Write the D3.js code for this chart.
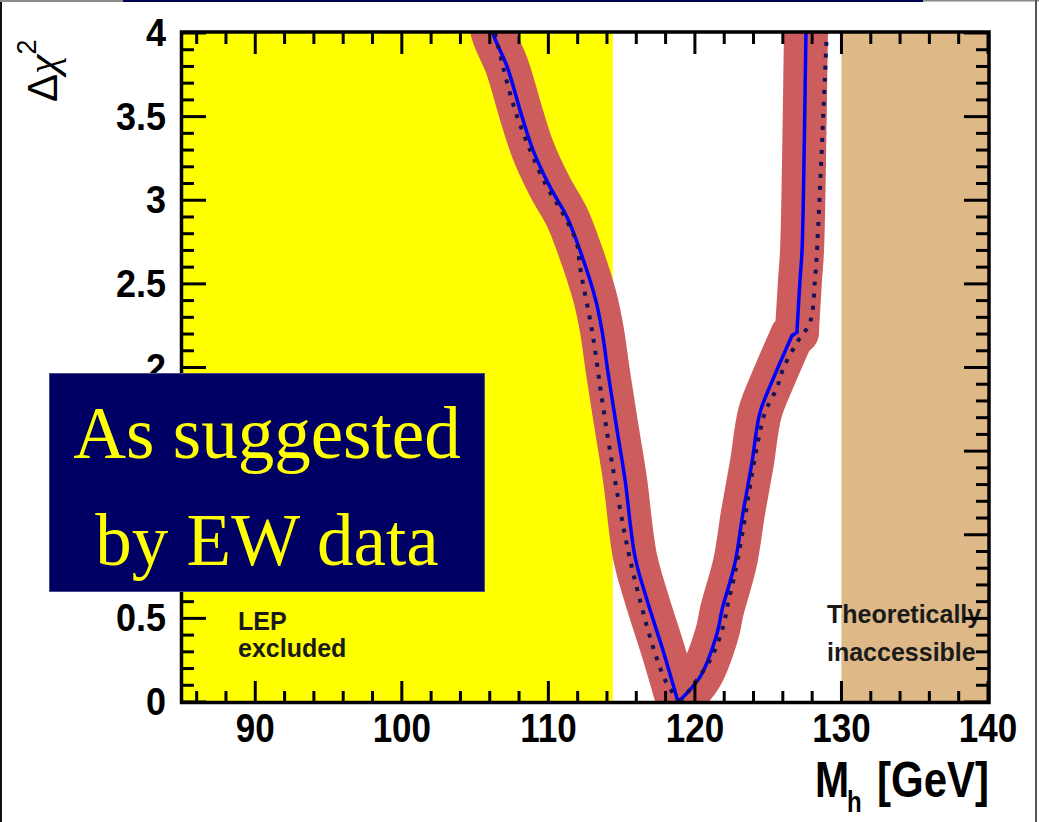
<!DOCTYPE html>
<html>
<head>
<meta charset="utf-8">
<script src="https://cdn.jsdelivr.net/npm/d3@7"></script>
<style>
  html, body { margin: 0; padding: 0; background: #ffffff; }
  svg { display: block; }
</style>
</head>
<body>
<svg id="chart" width="1039" height="822"></svg>
<script>
// Δχ² profile of the lightest Higgs mass from the electroweak fit
const blueMass = [105.95, 106.22, 107.18, 108.20, 108.95, 110.11, 111.27, 112.16, 113.18, 113.66,
                  114.07, 114.68, 115.23, 115.91, 116.73, 117.82, 118.85,
                  120.35, 121.51, 121.85, 122.73, 123.28, 123.89, 124.44, 125.33,
                  126.62, 126.96, 127.17, 127.31, 127.58, 127.62];
const blueChi2 = [4.15, 4.00, 3.80, 3.50, 3.30, 3.08, 2.90, 2.70, 2.42, 2.22,
                  1.97, 1.63, 1.33, 0.87, 0.61, 0.31, 0.00,
                  0.15, 0.41, 0.55, 0.83, 1.13, 1.43, 1.73, 1.93,
                  2.19, 2.21, 2.52, 2.70, 4.00, 4.15];
// masses where the solid profile has corners (minimum and the step near Δχ² ≈ 2.2)
const blueCorners = [118.85, 126.62, 126.96];

const dotMass = [106.36, 106.90, 107.72, 108.75, 109.90, 111.00, 111.95, 112.16, 112.98, 113.66,
                 114.34, 115.43, 116.25, 117.14, 118.09, 119.00,
                 121.03, 121.92, 122.26, 122.73, 123.28, 123.76, 124.24, 124.78, 125.60,
                 126.01, 126.97, 127.85, 128.19, 128.33, 129.00];
const dotChi2 = [4.00, 3.80, 3.54, 3.30, 3.08, 2.92, 2.74, 2.60, 2.22, 1.81,
                 1.43, 0.91, 0.61, 0.33, 0.11, 0.00,
                 0.25, 0.45, 0.59, 0.77, 1.03, 1.29, 1.53, 1.73, 1.88,
                 1.99, 2.15, 2.27, 2.52, 2.70, 4.00];
const dotCorners = [119.00];

// theory uncertainty carried by the thick band (GeV on either side)
const theoryError = 1.5;

// shaded mass regions
const lepLimit = 114.4;
const theoryLimit = 130;

const massTicks = [90, 100, 110, 120, 130, 140];
const massTickLabels = ["90", "100", "110", "120", "130", "140"];
const chi2Ticks = [0, 0.5, 1, 1.5, 2, 2.5, 3, 3.5, 4];
const chi2TickLabels = ["0", "0.5", "1", "1.5", "2", "2.5", "3", "3.5", "4"];

const massDomain = [85, 140];
const chi2Domain = [0, 4];

const svg = d3.select("#chart");
const W = 1039, H = 822;
const plotLeft = 182, plotRight = 988, plotTop = 33, plotBottom = 702;

const x = d3.scaleLinear().domain(massDomain).range([plotLeft, plotRight]);
const y = d3.scaleLinear().domain(chi2Domain).range([plotBottom, plotTop]);

svg.append("rect").attr("width", W).attr("height", H).attr("fill", "#ffffff");

// slide edges
svg.append("rect").attr("x", 0).attr("y", 0).attr("width", 2).attr("height", H).attr("fill", "#111");
svg.append("rect").attr("x", 0).attr("y", 0).attr("width", 123).attr("height", 2).attr("fill", "#8a8a8a");
svg.append("rect").attr("x", 123).attr("y", 0).attr("width", 800).attr("height", 2).attr("fill", "#000050");
svg.append("rect").attr("x", 923).attr("y", 0).attr("width", 116).attr("height", 1.5).attr("fill", "#8a8a8a");
svg.append("rect").attr("x", 1035).attr("y", 0).attr("width", 2).attr("height", H).attr("fill", "#555");

svg.append("defs").append("clipPath").attr("id", "plotClip")
  .append("rect").attr("x", plotLeft).attr("y", plotTop)
  .attr("width", plotRight - plotLeft).attr("height", plotBottom - plotTop);

const plot = svg.append("g").attr("clip-path", "url(#plotClip)");

// excluded regions
plot.append("rect")
  .attr("x", x(massDomain[0])).attr("y", y(chi2Domain[1]))
  .attr("width", x(lepLimit) - x(massDomain[0]))
  .attr("height", y(chi2Domain[0]) - y(chi2Domain[1]))
  .attr("fill", "#ffff00");
plot.append("rect")
  .attr("x", x(theoryLimit)).attr("y", y(chi2Domain[1]))
  .attr("width", x(massDomain[1]) - x(theoryLimit))
  .attr("height", y(chi2Domain[0]) - y(chi2Domain[1]))
  .attr("fill", "#deb887");

// split a profile into smooth pieces at its corner masses
function pieces(mass, chi2, corners) {
  const pts = mass.map((m, i) => [m, chi2[i]]);
  const out = [];
  let cur = [];
  pts.forEach(p => {
    cur.push(p);
    if (corners.some(c => Math.abs(c - p[0]) < 1e-6)) {
      out.push(cur);
      cur = [p];
    }
  });
  if (cur.length > 1) out.push(cur);
  return out;
}

const line = d3.line().x(d => x(d[0])).y(d => y(d[1])).curve(d3.curveCatmullRom.alpha(0.5));

const bluePieces = pieces(blueMass, blueChi2, blueCorners);
const dotPieces = pieces(dotMass, dotChi2, dotCorners);

// theory band: the profile widened by ±theoryError in mass
const bandWidth = x(massDomain[0] + 2 * theoryError) - x(massDomain[0]);
plot.selectAll("path.band").data(bluePieces).join("path")
  .attr("class", "band")
  .attr("d", line)
  .attr("fill", "none")
  .attr("stroke", "#cd5c5c")
  .attr("stroke-width", bandWidth)
  .attr("stroke-linejoin", "round")
  .attr("stroke-linecap", "round");

plot.selectAll("path.fit").data(bluePieces).join("path")
  .attr("class", "fit")
  .attr("d", line)
  .attr("fill", "none")
  .attr("stroke", "#0000ff")
  .attr("stroke-width", 3.5)
  .attr("stroke-linecap", "round");

plot.selectAll("path.alt").data(dotPieces).join("path")
  .attr("class", "alt")
  .attr("d", line)
  .attr("fill", "none")
  .attr("stroke", "#14145a")
  .attr("stroke-width", 4)
  .attr("stroke-dasharray", "4,8");

// region captions
const caption = svg.append("g")
  .attr("font-family", "'Liberation Sans', Arial, sans-serif")
  .attr("font-weight", "bold")
  .attr("font-size", 25)
  .attr("fill", "#1a1a1a");
caption.append("text").attr("x", 238).attr("y", 630).text("LEP");
caption.append("text").attr("x", 238).attr("y", 657).text("excluded");
caption.append("text").attr("x", 827).attr("y", 623).text("Theoretically");
caption.append("text").attr("x", 827).attr("y", 661).text("inaccessible");

// frame and ticks
const axes = svg.append("g").attr("stroke", "#000").attr("fill", "none");
const minorMass = d3.range(86, 140.01, 2).filter(v => !massTicks.includes(v));
const minorChi2 = d3.range(1, 40).map(i => i / 10).filter(v => !chi2Ticks.some(t => Math.abs(t - v) < 1e-9));

function xTick(v, len) {
  axes.append("line").attr("x1", x(v)).attr("x2", x(v)).attr("y1", plotBottom).attr("y2", plotBottom - len).attr("stroke-width", 3);
  axes.append("line").attr("x1", x(v)).attr("x2", x(v)).attr("y1", plotTop).attr("y2", plotTop + len).attr("stroke-width", 3);
}
function yTick(v, len) {
  axes.append("line").attr("y1", y(v)).attr("y2", y(v)).attr("x1", plotLeft).attr("x2", plotLeft + len).attr("stroke-width", 3);
  axes.append("line").attr("y1", y(v)).attr("y2", y(v)).attr("x1", plotRight).attr("x2", plotRight - len).attr("stroke-width", 3);
}
minorMass.forEach(v => xTick(v, 11));
massTicks.forEach(v => xTick(v, 21));
minorChi2.forEach(v => yTick(v, 12));
chi2Ticks.forEach(v => yTick(v, 24));

axes.append("rect")
  .attr("x", plotLeft - 0.5).attr("y", plotTop - 1)
  .attr("width", plotRight - plotLeft + 1.5).attr("height", plotBottom - plotTop + 1.5)
  .attr("stroke-width", 3.5);

// annotation box geometry (drawn last, over the axis labels)
const box = { x: 49.5, y: 373.5, w: 435, h: 218 };

// tick labels; those lying wholly under the annotation box are left out
const labelFont = "'Liberation Sans', Arial, Helvetica, sans-serif";
const yLabels = svg.append("g")
  .attr("font-family", labelFont).attr("font-weight", "bold")
  .attr("font-size", 36).attr("fill", "#000").attr("text-anchor", "end");
chi2Ticks.forEach((v, i) => {
  const top = y(v) - 14, bot = y(v) + 13;
  if (top > box.y && bot < box.y + box.h) return;
  yLabels.append("text")
    .attr("transform", `translate(166,${y(v) + 13}) scale(1,1.06)`)
    .text(chi2TickLabels[i]);
});

const xLabels = svg.append("g")
  .attr("font-family", labelFont).attr("font-weight", "bold")
  .attr("font-size", 35).attr("fill", "#000").attr("text-anchor", "middle");
massTicks.forEach((v, i) => {
  xLabels.append("text")
    .attr("transform", `translate(${x(v)},742) scale(1,1.16)`)
    .text(massTickLabels[i]);
});

// axis titles
const xTitle = svg.append("g")
  .attr("font-family", labelFont).attr("font-weight", "bold").attr("fill", "#000");
xTitle.append("text").attr("transform", "translate(815,797) scale(1,1.2)")
  .attr("font-size", 41).text("M");
xTitle.append("text").attr("transform", "translate(847,812) scale(1,1.2)")
  .attr("font-size", 24).text("h");
xTitle.append("text").attr("transform", "translate(989,797) scale(1,1.2)")
  .attr("font-size", 42).attr("text-anchor", "end").text("[GeV]");

const yTitle = svg.append("text")
  .attr("transform", "translate(57,102) rotate(-90)")
  .attr("font-family", labelFont).attr("fill", "#000");
yTitle.append("tspan").attr("font-size", 42).text("Δ");
yTitle.append("tspan").attr("font-size", 44).attr("font-style", "italic")
  .attr("font-family", "'Liberation Serif', 'Times New Roman', serif").text("χ");
yTitle.append("tspan").attr("font-size", 27).attr("dy", -21).text("2");

// annotation box
const note = svg.append("g");
note.append("rect")
  .attr("x", box.x).attr("y", box.y).attr("width", box.w).attr("height", box.h)
  .attr("fill", "#000064").attr("stroke", "#4a4a8a").attr("stroke-width", 1);
const noteText = note.append("g")
  .attr("font-family", "'Liberation Serif', 'Times New Roman', serif")
  .attr("font-size", 73).attr("fill", "#ffff00").attr("text-anchor", "middle");
noteText.append("text").attr("x", box.x + box.w / 2).attr("y", 458).text("As suggested");
noteText.append("text").attr("x", box.x + box.w / 2).attr("y", 565).text("by EW data");
</script>
</body>
</html>
